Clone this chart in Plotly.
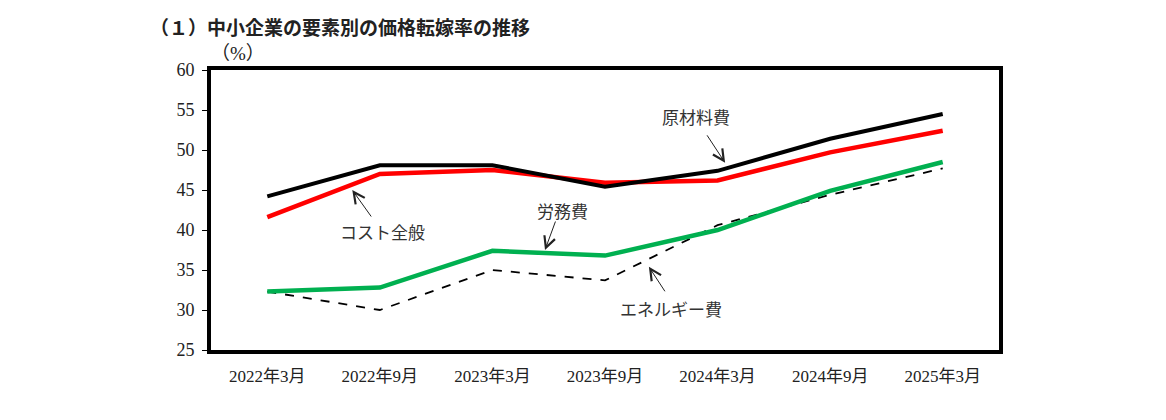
import plotly.graph_objects as go

categories = ["2022年3月", "2022年9月", "2023年3月", "2023年9月", "2024年3月", "2024年9月", "2025年3月"]
energy = [32.3, 30.0, 35.0, 33.7, 40.6, 44.4, 47.7]
labor = [32.3, 32.8, 37.4, 36.8, 40.0, 44.9, 48.5]
cost_all = [41.6, 47.0, 47.5, 45.9, 46.2, 49.7, 52.4]
materials = [44.2, 48.1, 48.1, 45.4, 47.4, 51.4, 54.5]

SERIF = "Liberation Serif, Noto Sans CJK JP, serif"
CJK = "Noto Sans CJK JP, sans-serif"

fig = go.Figure()
fig.add_trace(go.Scatter(x=categories, y=energy, mode="lines", name="エネルギー費",
                         line=dict(color="black", width=1.8, dash="dash")))
fig.add_trace(go.Scatter(x=categories, y=labor, mode="lines", name="労務費",
                         line=dict(color="#00B050", width=4.5)))
fig.add_trace(go.Scatter(x=categories, y=cost_all, mode="lines", name="コスト全般",
                         line=dict(color="#FF0000", width=4.5)))
fig.add_trace(go.Scatter(x=categories, y=materials, mode="lines", name="原材料費",
                         line=dict(color="black", width=4)))

annotations = []
# label texts
labels = [
    ("コスト全般", 1.025, 39.8),
    ("労務費", 2.62, 42.5),
    ("原材料費", 3.81, 54.2),
    ("エネルギー費", 3.59, 30.2),
]
for txt, x, y in labels:
    annotations.append(dict(x=x, y=y, xref="x", yref="y", text=txt, showarrow=False,
                            font=dict(family=CJK, size=17, color="#333")))

# arrows: head (x, y) and tail offset in px
arrows = [
    (0.755, 45.0, 20, 28),
    (2.467, 37.5, 11, -30),
    (4.067, 48.4, -19, -29),
    (3.39, 35.4, 17, 26),
]
for x, y, ax, ay in arrows:
    annotations.append(dict(x=x, y=y, xref="x", yref="y", text="", showarrow=True,
                            ax=ax, ay=ay, arrowhead=5, arrowsize=2.2, arrowwidth=1,
                            arrowcolor="#222"))

annotations.append(dict(x=-0.08, y=1.154, xref="paper", yref="paper", xanchor="left",
                        yanchor="middle", text="<b>（１）中小企業の要素別の価格転嫁率の推移</b>",
                        showarrow=False, font=dict(family=CJK, size=19, color="#222")))
annotations.append(dict(x=0.034, y=1.06, xref="paper", yref="paper", xanchor="center",
                        yanchor="middle", text="（%）", showarrow=False,
                        font=dict(family=SERIF, size=19, color="#222")))

# browser body has an 8px margin, so shift everything up/left by 8px
fig.update_layout(
    width=1150, height=404,
    margin=dict(l=203, r=159, t=62, b=62, autoexpand=False),
    paper_bgcolor="white", plot_bgcolor="white",
    showlegend=False,
    font=dict(family=SERIF, size=16, color="#222"),
    annotations=annotations,
)
fig.update_xaxes(type="category", range=[-0.5, 6.5], showline=True, linecolor="black",
                 linewidth=4, mirror=True, showgrid=False, ticks="", automargin=False,
                 tickfont=dict(family=SERIF, size=17), ticklabelstandoff=8)
fig.update_yaxes(range=[25, 60], dtick=5, showline=True, linecolor="black", linewidth=4,
                 mirror=True, showgrid=False, zeroline=False, ticks="outside", ticklen=5,
                 tickwidth=1, tickcolor="black", automargin=False,
                 tickfont=dict(family=SERIF, size=18), ticklabelstandoff=4)

fig.write_html("out.html")
